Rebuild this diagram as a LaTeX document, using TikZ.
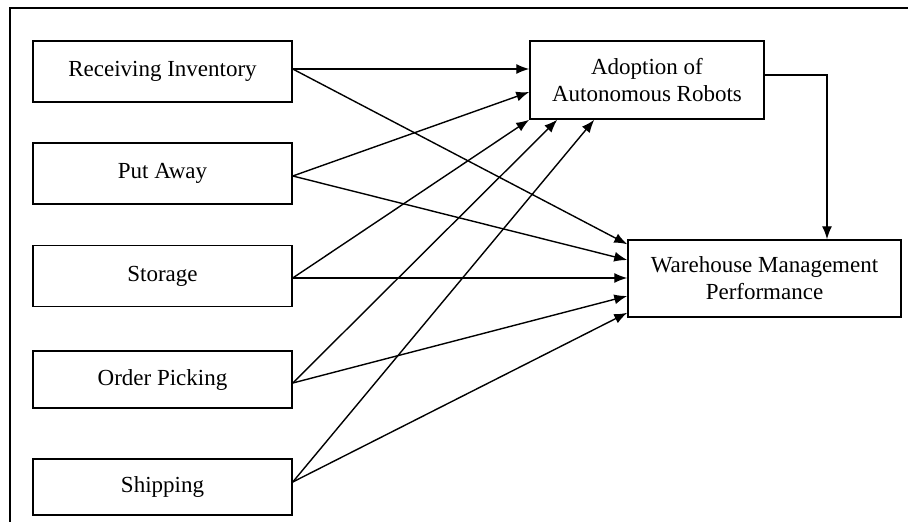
\documentclass[tikz,border=0pt]{standalone}
\usepackage{fontspec}
\setmainfont{Liberation Serif}
\usetikzlibrary{arrows.meta}
\begin{document}
\begin{tikzpicture}[x=1pt,y=-1pt,
  box/.style={draw, line width=1.5pt, minimum width=259pt, minimum height=61pt, inner sep=0pt,
    font=\fontsize{23}{27}\selectfont, align=center},
  conn/.style={line width=1.4pt, -{Latex[length=13pt,width=10pt]}}]
\useasboundingbox (0,0) rectangle (908,522);
\draw[line width=2pt] (10,522) -- (10,8) -- (908,8);
\node[box] (rcv) at (162.5,71.5) {Receiving Inventory};
\node[box] (put) at (162.5,173.5) {Put Away};
\node[box] (sto) at (162.5,276) {Storage};
\node[box, minimum height=57pt] (ord) at (162.5,379.5) {Order Picking};
\node[box, minimum height=56pt] (shp) at (162.5,487) {Shipping};
\node[box, minimum width=234pt, minimum height=78pt] (adopt) at (647,80) {Adoption of\\Autonomous Robots};
\node[box, minimum width=273pt, minimum height=77pt] (wmp) at (764.5,278.5) {Warehouse Management\\Performance};
% to adoption
\draw[conn] ([yshift=2.5pt]rcv.east) -- ([yshift=2.5pt]rcv.east -| adopt.west);
\draw[conn] ([yshift=-2.5pt]put.east) -- ([yshift=-12pt]adopt.west);
\draw[conn] ([yshift=-2pt]sto.east) -- (adopt.south west);
\draw[conn] ([yshift=-3.5pt]ord.east) -- ([xshift=28pt]adopt.south west);
\draw[conn] ([yshift=5pt]shp.east) -- ([xshift=65pt]adopt.south west);
% to wmp
\draw[conn] ([yshift=2.5pt]rcv.east) -- ([yshift=-5pt]wmp.north west);
\draw[conn] ([yshift=-2.5pt]put.east) -- ([yshift=18.5pt]wmp.west);
\draw[conn] ([yshift=-2pt]sto.east) -- ([yshift=-2pt]sto.east -| wmp.west);
\draw[conn] ([yshift=-3.5pt]ord.east) -- ([yshift=-17.5pt]wmp.west);
\draw[conn] ([yshift=5pt]shp.east) -- ([yshift=5pt]wmp.south west);
% adoption to wmp
\draw[conn] ([yshift=5pt]adopt.east) -| ([xshift=62.5pt]wmp.north);
\end{tikzpicture}
\end{document}
